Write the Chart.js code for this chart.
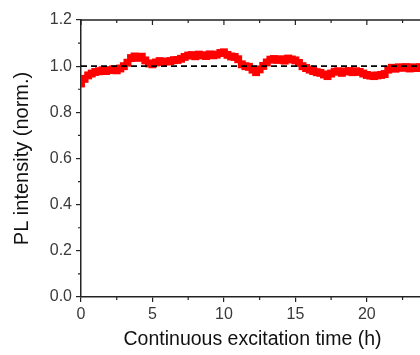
<!DOCTYPE html>
<html>
<head>
<meta charset="utf-8">
<script src="https://cdn.jsdelivr.net/npm/chart.js@4.4.1/dist/chart.umd.min.js"></script>
<style>
  html, body { margin: 0; padding: 0; background: #fff; overflow: hidden; }
  #wrap { width: 430px; height: 355px; }
</style>
</head>
<body>
<div id="wrap"><canvas id="mycanvas" width="430" height="355"></canvas></div>
<script>
// PL intensity (normalised) sampled every 0.25 h
var timeStep = 0.25;
var intensity = [
  0.925, 0.945, 0.960, 0.968, 0.975, 0.978, 0.982, 0.979, 0.983, 0.986,
  0.982, 0.990, 1.000, 1.015, 1.035, 1.042, 1.036, 1.041, 1.025, 1.012,
  1.008, 1.016, 1.022, 1.018, 1.020, 1.022, 1.026, 1.027, 1.032, 1.040,
  1.046, 1.048, 1.043, 1.050, 1.047, 1.044, 1.051, 1.047, 1.050, 1.057,
  1.060, 1.049, 1.042, 1.040, 1.030, 1.008, 1.000, 0.997, 0.985, 0.974,
  0.986, 1.001, 1.016, 1.028, 1.031, 1.027, 1.030, 1.024, 1.033, 1.029,
  1.025, 1.014, 1.000, 0.992, 0.985, 0.979, 0.974, 0.971, 0.964, 0.957,
  0.968, 0.976, 0.978, 0.971, 0.977, 0.979, 0.974, 0.978, 0.975, 0.968,
  0.962, 0.959, 0.957, 0.960, 0.962, 0.966, 0.985, 0.993, 0.989, 0.995,
  0.993, 0.996, 0.990, 0.995, 0.992, 0.996, 0.993
];
var refLevel = 1.0;
var xTicksMajor = [0, 5, 10, 15, 20];
var xMax = 24;
var yMin = 0, yMax = 1.2;

var points = [];
for (var i = 0; i < intensity.length; i++) {
  points.push({x: i * timeStep, y: intensity[i]});
}

var axisColor = "#222";
var labelColor = "#3a3a3a";

// box frame + minor ticks
var framePlugin = {
  id: "frame",
  afterDraw: function(chart) {
    var c = chart.ctx, a = chart.chartArea;
    var xs = chart.scales.x, ys = chart.scales.y;
    c.save();
    c.strokeStyle = axisColor;
    c.lineWidth = 1.5;
    c.beginPath();
    c.moveTo(a.left, a.top); c.lineTo(a.right, a.top);
    c.moveTo(a.right, a.top); c.lineTo(a.right, a.bottom);
    c.stroke();
    c.lineWidth = 1.2;
    c.beginPath();
    for (var t = 0; t <= xMax; t += 2.5) {
      var px = xs.getPixelForValue(t);
      var major = (t % 5 === 0);
      // top ticks point inward
      c.moveTo(px, a.top); c.lineTo(px, a.top + (major ? 5 : 3));
      if (!major) { c.moveTo(px, a.bottom); c.lineTo(px, a.bottom + 3); }
    }
    for (var v = 0.1; v < yMax; v += 0.2) {
      var py = ys.getPixelForValue(v);
      c.moveTo(a.left, py); c.lineTo(a.left - 3, py);
    }
    c.stroke();
    c.restore();
  }
};

var chartdata = {
  datasets: [
    {
      label: "reference",
      data: [{x: 0, y: refLevel}, {x: xMax, y: refLevel}],
      borderColor: "#000",
      borderWidth: 1.6,
      borderDash: [6, 4],
      pointRadius: 0,
      fill: false,
      order: 0
    },
    {
      label: "PL intensity",
      data: points,
      showLine: false,
      pointStyle: "rect",
      pointRadius: 5.6,
      pointBorderWidth: 0,
      backgroundColor: "#ff0000",
      borderColor: "#ff0000",
      order: 1
    }
  ]
};

var ctx = document.getElementById("mycanvas");
var LineGraph = new Chart(ctx, {
  type: "line",
  data: chartdata,
  plugins: [framePlugin],
  options: {
    responsive: false,
    animation: false,
    events: [],
    layout: { padding: { top: 20, right: 6, left: 0, bottom: 0 } },
    plugins: { legend: { display: false }, tooltip: { enabled: false } },
    scales: {
      x: {
        type: "linear",
        min: 0, max: xMax,
        afterFit: function(s) { s.height = 58; },
        afterBuildTicks: function(s) { s.ticks = xTicksMajor.map(function(v) { return {value: v}; }); },
        grid: { display: true, drawOnChartArea: false, tickLength: 5, color: axisColor, lineWidth: 1.2 },
        border: { display: true, color: axisColor, width: 1.5 },
        ticks: { color: labelColor, font: { family: "Liberation Sans, Arial", size: 16 }, padding: 3, maxRotation: 0 },
        title: { display: true, text: "Continuous excitation time (h)", color: "#111",
                 font: { family: "Liberation Sans, Arial", size: 19.5 }, padding: { top: 4 } }
      },
      y: {
        min: yMin, max: yMax,
        afterFit: function(s) { s.width = 81; },
        grid: { display: true, drawOnChartArea: false, tickLength: 5, color: axisColor, lineWidth: 1.2 },
        border: { display: true, color: axisColor, width: 1.5 },
        ticks: { stepSize: 0.2, color: labelColor, font: { family: "Liberation Sans, Arial", size: 16 }, padding: 4,
                 callback: function(v) { return v.toFixed(1); } },
        title: { display: true, text: "PL intensity (norm.)", color: "#111",
                 font: { family: "Liberation Sans, Arial", size: 20 }, padding: { top: 10 } }
      }
    }
  }
});
</script>
</body>
</html>
